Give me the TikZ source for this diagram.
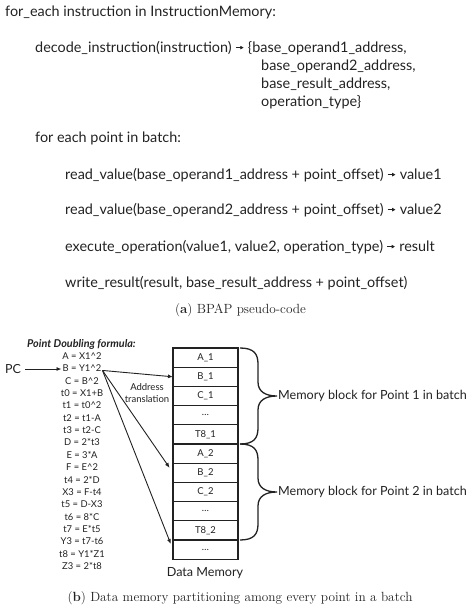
\documentclass[tikz,border=0pt]{standalone}
\usepackage{fontspec}
\newfontfamily\codefont{Lato}
\usetikzlibrary{arrows.meta,calc}

\definecolor{ink}{HTML}{222222}
\newcommand\rarr{\tikz[baseline=-0.6ex]\draw[ink,line width=0.9pt,-{Latex[length=3.5pt,width=4pt]}] (0pt,0pt) -- (8pt,0pt);}
\newcommand\membrace[2]
{
\draw[brc] ($(#1.north east)+(2,0)$)
  .. controls +(14,0) and +(0,-10) .. ++(18,16) -- ++(0,18)
  .. controls +(0,10) and +(-11,0) .. ++(19,14) coordinate (#2)
  .. controls +(-11,0) and +(0,-10) .. ++(-19,14) -- ++(0,18)
  .. controls +(0,10) and +(14,0) .. ++(-18,16);
}

\begin{document}
\begin{tikzpicture}[x=1pt,y=-1pt,ink,
  code/.style={font=\codefont\fontsize{14.4}{16}\selectfont, anchor=base west, inner sep=0pt},
  capt/.style={font=\fontsize{13.3}{15}\selectfont, anchor=base, inner sep=0pt},
  frm/.style={font=\codefont\fontsize{9.4}{10}\selectfont, anchor=base, inner sep=1pt},
  cell/.style={draw, line width=1.3pt, minimum width=65pt, minimum height=19.2pt, inner sep=0pt, outer sep=0pt, font=\codefont\fontsize{9.5}{10}\selectfont},
  lbl/.style={font=\codefont\fontsize{12.6}{14}\selectfont, inner sep=0pt},
  brc/.style={line width=1.3pt},
  arr/.style={line width=0.9pt, -{Latex[length=5pt,width=4pt]}}]
\useasboundingbox (0,0) rectangle (474,611);

% (a) pseudo-code
\node[code] (l1)  at (5,16)   {for\_each instruction in InstructionMemory:};
\node[code] (l2)  at (35,52)  {decode\_instruction(instruction) \rarr\ \{base\_operand1\_address,};
\node[code] (l3)  at (261,70) {base\_operand2\_address,};
\node[code] (l4)  at (261,88) {base\_result\_address,};
\node[code] (l5)  at (261,106){operation\_type\}};
\node[code] (l6)  at (35,142) {for each point in batch:};
\node[code] (l7)  at (65,179) {read\_value(base\_operand1\_address + point\_offset) \rarr\ value1};
\node[code] (l8)  at (65,214) {read\_value(base\_operand2\_address + point\_offset) \rarr\ value2};
\node[code] (l9)  at (65,251) {execute\_operation(value1, value2, operation\_type) \rarr\ result};
\node[code] (l10) at (65,287) {write\_result(result, base\_result\_address + point\_offset)};
\node[capt] (capa) at (240.5,313) {(\textbf{a}) BPAP pseudo-code};

% (b) formula
\node[code, font=\codefont\bfseries\itshape\fontsize{10.8}{12}\selectfont] (title) at (27,347) {Point Doubling formula:};
\foreach \f [count=\i] in {A = X1\textasciicircum2, B = Y1\textasciicircum2, C = B\textasciicircum2, t0 = X1+B,
  t1 = t0\textasciicircum2, t2 = t1-A, t3 = t2-C, D = 2*t3, E = 3*A, F = E\textasciicircum2, t4 = 2*D,
  X3 = F-t4, t5 = D-X3, t6 = 8*C, t7 = E*t5, Y3 = t7-t6, t8 = Y1*Z1, Z3 = 2*t8}
  \node[frm] (f\i) at (82,{359.5+(\i-1)*12.35}) {\f};
\node[lbl, font=\codefont\fontsize{12.5}{14}\selectfont] (pc) at (13,369) {PC};
\draw[arr] (pc.east) ++(4,0) coordinate (pcs) -- (pcs -| f2.west);

% data memory
\foreach \c [count=\i] in {A\_1, B\_1, C\_1, \ldots, T8\_1, A\_2, B\_2, C\_2, \ldots, T8\_2, \ldots}
  \node[cell] (m\i) at (205.5,{357.6+(\i-1)*19.2}) {\c};
\node[lbl] (dm) at (205,573) {Data Memory};

% address translation
\coordinate (src) at ($(f2.east)+(0,2)$);
\draw[arr] (src) -- (m2.west);
\draw[arr, shorten >=6pt] (src) -- (m7.west);
\draw[arr, shorten >=6pt] (src) -- (m11.west);
\node[lbl, font=\codefont\fontsize{9.5}{12.5}\selectfont, align=center] (addr) at (147,393) {Address\\translation};

% memory blocks
\membrace{m1}{tip1}
\membrace{m6}{tip2}
\node[lbl, anchor=west] (blk1) at ($(tip1)+(1,0)$) {Memory block for Point 1 in batch};
\node[lbl, anchor=west] (blk2) at ($(tip2)+(1,0)$) {Memory block for Point 2 in batch};

\node[capt] (capb) at (240,601) {(\textbf{b}) Data memory partitioning among every point in a batch};
\end{tikzpicture}
\end{document}
